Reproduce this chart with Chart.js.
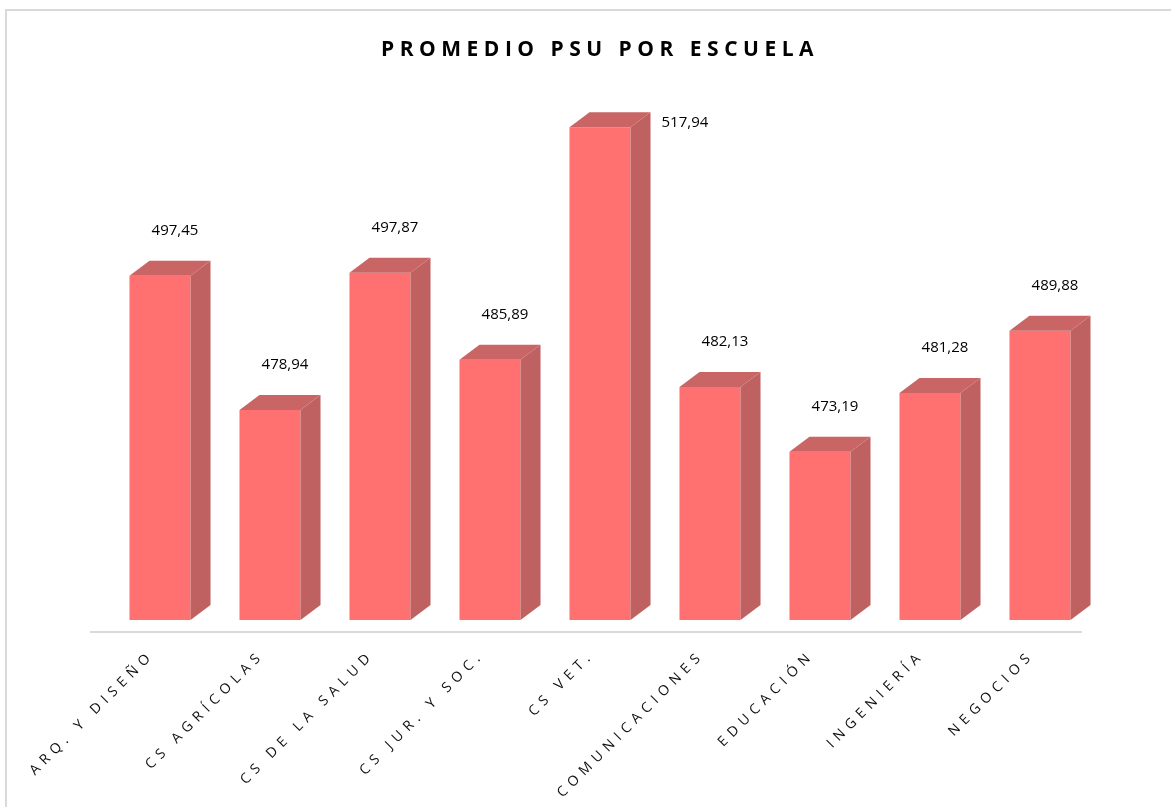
<!DOCTYPE html>
<html>
<head>
<meta charset="utf-8">
<script src="https://cdn.jsdelivr.net/npm/chart.js@4.4.0/dist/chart.umd.min.js"></script>
<style>
  html, body { margin: 0; padding: 0; background: #fff; }
  .frame {
    position: absolute; left: 5px; top: 9px; width: 1200px; height: 840px;
    border-left: 2px solid #d9d9d9; border-top: 2px solid #d9d9d9;
  }
  .wrap { position: absolute; left: 0; top: 0; width: 1171px; height: 807px; }
</style>
</head>
<body>
<div class="frame"></div>
<div class="wrap"><canvas id="psuChart"></canvas></div>
<script>
const escuelas = ['ARQ. Y DISEÑO', 'CS AGRÍCOLAS', 'CS DE LA SALUD', 'CS JUR. Y SOC.', 'CS VET.',
    'COMUNICACIONES', 'EDUCACIÓN', 'INGENIERÍA', 'NEGOCIOS'];
const promedios = [497.45, 478.94, 497.87, 485.89, 517.94, 482.13, 473.19, 481.28, 489.88];
const yMin = 450;
const yMax = 520;

const frontColor = '#FF7171';
const topColor = '#C96565';
const sideColor = '#BF6161';
const depthX = 20;
const depthY = 15;

// Format like "497,45"
const formatValue = (v) => v.toFixed(2).replace('.', ',');

// 3D faces, floor line and value labels
const bar3d = {
    id: 'bar3d',
    beforeDraw(chart) {
        const { ctx, chartArea } = chart;
        // title spacing (title is drawn before the datasets)
        ctx.letterSpacing = '5.5px';
        ctx.save();
        ctx.strokeStyle = '#d9d9d9';
        ctx.lineWidth = 2;
        ctx.beginPath();
        ctx.moveTo(90, chartArea.bottom + 12);
        ctx.lineTo(1082, chartArea.bottom + 12);
        ctx.stroke();
        ctx.restore();
    },
    afterDatasetsDraw(chart) {
        const { ctx, chartArea } = chart;
        const meta = chart.getDatasetMeta(0);
        const base = chart.scales.y.getPixelForValue(yMin);
        ctx.save();
        ctx.letterSpacing = '0px';
        meta.data.forEach((bar, i) => {
            const left = bar.x - bar.width / 2;
            const right = bar.x + bar.width / 2;
            const top = bar.y;

            ctx.fillStyle = sideColor;
            ctx.beginPath();
            ctx.moveTo(right, top);
            ctx.lineTo(right + depthX, top - depthY);
            ctx.lineTo(right + depthX, base - depthY);
            ctx.lineTo(right, base);
            ctx.closePath();
            ctx.fill();

            ctx.fillStyle = topColor;
            ctx.beginPath();
            ctx.moveTo(left, top);
            ctx.lineTo(left + depthX, top - depthY);
            ctx.lineTo(right + depthX, top - depthY);
            ctx.lineTo(right, top);
            ctx.closePath();
            ctx.fill();

            ctx.fillStyle = '#000';
            ctx.font = '15px "Open Sans", sans-serif';
            ctx.textBaseline = 'middle';
            const text = formatValue(promedios[i]);
            if (top - 46 < chartArea.top) {
                ctx.textAlign = 'left';
                ctx.fillText(text, right + depthX + 11, top - 4);
            } else {
                ctx.textAlign = 'center';
                ctx.fillText(text, bar.x + 15, top - 45);
            }
        });
        ctx.restore();
        // tick label spacing (x scale is drawn after the datasets)
        ctx.letterSpacing = '3.6px';
    }
};

const ctx = document.getElementById('psuChart').getContext('2d');
new Chart(ctx, {
    type: 'bar',
    data: {
        labels: escuelas,
        datasets: [{
            data: promedios,
            backgroundColor: frontColor,
            borderWidth: 0,
            categoryPercentage: 0.555,
            barPercentage: 1.0
        }]
    },
    options: {
        responsive: true,
        maintainAspectRatio: false,
        animation: false,
        layout: {
            padding: { top: 10, left: 105, right: 76, bottom: 0 }
        },
        plugins: {
            legend: { display: false },
            tooltip: { enabled: false },
            title: {
                display: true,
                text: 'PROMEDIO PSU POR ESCUELA',
                color: '#000',
                font: { family: '"Open Sans", sans-serif', size: 21, weight: 'bold', lineHeight: 1.2 },
                padding: { top: 27, bottom: 50 }
            }
        },
        scales: {
            y: {
                display: false,
                min: yMin,
                max: yMax
            },
            x: {
                z: 1,
                grid: { display: false, drawTicks: false },
                border: { display: false },
                ticks: {
                    autoSkip: false,
                    minRotation: 45,
                    maxRotation: 45,
                    padding: 27,
                    labelOffset: -8,
                    color: '#111',
                    font: { family: '"Open Sans", sans-serif', size: 14 }
                },
                afterFit(scale) {
                    scale.height = 187;
                    scale.paddingLeft = 0;
                    scale.paddingRight = 0;
                }
            }
        }
    },
    plugins: [bar3d]
});
</script>
</body>
</html>
